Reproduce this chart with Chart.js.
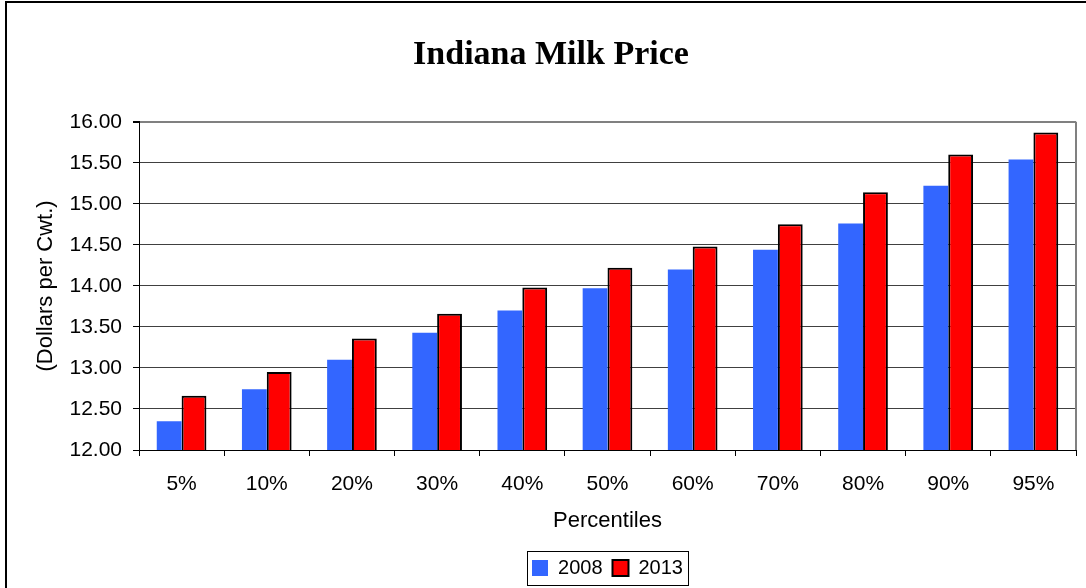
<!DOCTYPE html>
<html><head><meta charset="utf-8">
<script src="https://cdn.jsdelivr.net/npm/chart.js@4"></script>
<style>html,body{margin:0;padding:0;background:#fff;} canvas{display:block;}</style>
</head><body>
<canvas id="c" width="1086" height="588" style="width:1086px;height:588px"></canvas>
<script>
const categories = ['5%','10%','20%','30%','40%','50%','60%','70%','80%','90%','95%'];
const values2008 = [12.35,12.74,13.10,13.43,13.70,13.97,14.20,14.44,14.76,15.22,15.54];
const values2013 = [12.66,12.95,13.36,13.66,13.98,14.22,14.48,14.75,15.14,15.60,15.87];
const seriesLabels = ['2008','2013'];
const chartTitle = 'Indiana Milk Price';
const xTitle = 'Percentiles';
const yTitle = '(Dollars per Cwt.)';
const yMin = 12, yMax = 16, yStep = 0.5;

const sans = 'Arial, "Liberation Sans", sans-serif';
const serif = '"Times New Roman", "Liberation Serif", serif';

const framePlugin = {
  id: 'frame',
  beforeDraw(chart) {
    const c = chart.ctx;
    c.save();
    c.fillStyle = '#fff';
    c.fillRect(0, 0, chart.width, chart.height);
    c.fillStyle = '#000';
    c.fillRect(5, 1, chart.width - 5, 2);
    c.fillRect(5, 1, 2, chart.height - 1);
    c.restore();
  },
  afterDraw(chart) {
    const c = chart.ctx;
    const a = chart.chartArea;
    c.save();
    c.strokeStyle = '#808080';
    c.lineWidth = 2;
    c.beginPath();
    c.moveTo(a.right, a.top);
    c.lineTo(a.right, a.bottom);
    c.stroke();
    const hb = chart.legend.legendHitBoxes;
    if (hb && hb.length) {
      const l = hb[0].left - 5;
      const last = hb[hb.length - 1];
      const r = last.left + last.width + 5;
      const t = hb[0].top - 7;
      const b = hb[0].top + hb[0].height + 7;
      c.strokeStyle = '#000';
      c.lineWidth = 1;
      c.strokeRect(Math.round(l) + 0.5, Math.round(t) + 0.5, Math.round(r - l), Math.round(b - t));
    }
    c.restore();
  }
};

new Chart(document.getElementById('c'), {
  type: 'bar',
  data: {
    labels: categories,
    datasets: [
      { label: seriesLabels[0], data: values2008, backgroundColor: '#3366FF', borderWidth: 0,
        categoryPercentage: 0.583, barPercentage: 1 },
      { label: seriesLabels[1], data: values2013, backgroundColor: '#FF0000', borderColor: '#000', borderWidth: 2,
        categoryPercentage: 0.583, barPercentage: 1 }
    ]
  },
  options: {
    responsive: false,
    animation: false,
    layout: { padding: { left: 26, right: 10, top: 0, bottom: 0 } },
    plugins: {
      tooltip: { enabled: false },
      title: {
        display: true, text: chartTitle, color: '#000',
        font: { family: serif, size: 34, weight: 'bold' },
        padding: { top: 35, bottom: 46 }
      },
      legend: {
        position: 'bottom',
        fullSize: false,
        labels: { boxWidth: 16, boxHeight: 16, color: '#000', padding: 10,
          font: { family: sans, size: 20 } }
      }
    },
    scales: {
      x: {
        afterFit(s) { s.height = 98; },
        grid: { drawOnChartArea: false, tickLength: 6, tickColor: '#000', offset: true },
        border: { color: '#000', width: 1 },
        ticks: { color: '#000', padding: 16, maxRotation: 0, font: { family: sans, size: 21 } },
        title: { display: true, text: xTitle, color: '#000', font: { family: sans, size: 22 },
          padding: { top: 4, bottom: 14 } }
      },
      y: {
        min: yMin, max: yMax,
        afterFit(s) { s.width = 113; },
        grid: {
          color: (ctx) => (ctx.tick && ctx.tick.value === yMax ? '#808080' : '#404040'),
          lineWidth: (ctx) => (ctx.tick && ctx.tick.value === yMax ? 2 : 1),
          tickLength: 6, tickColor: '#000'
        },
        border: { color: '#000', width: 1 },
        ticks: { stepSize: yStep, color: '#000', padding: 11, font: { family: sans, size: 21 },
          callback: (v) => Number(v).toFixed(2) },
        title: { display: true, text: yTitle, color: '#000', font: { family: sans, size: 22 },
          padding: { top: 7, bottom: 0 } }
      }
    }
  },
  plugins: [framePlugin]
});
</script>
</body></html>
